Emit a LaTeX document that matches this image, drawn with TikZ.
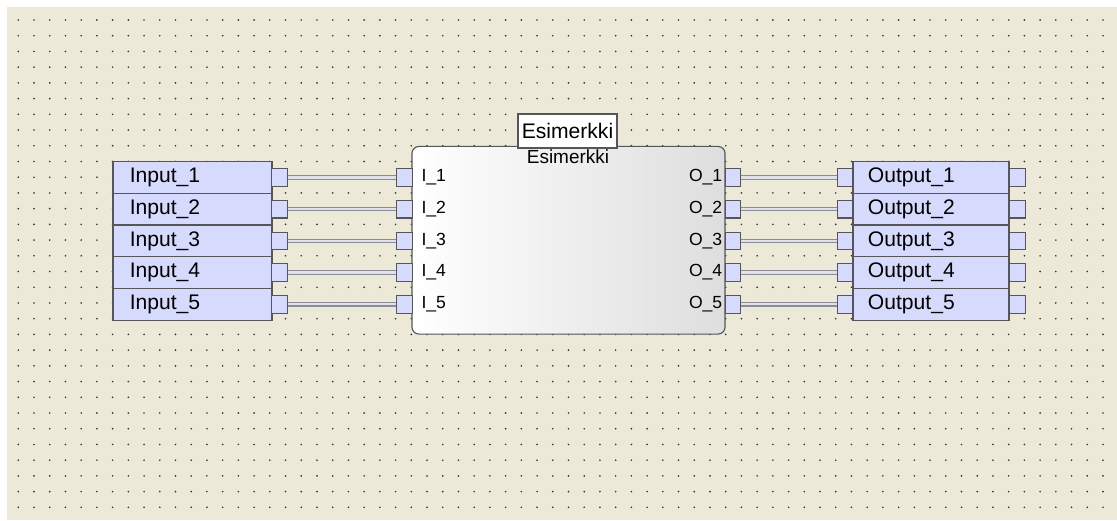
\documentclass[tikz,border=0pt]{standalone}
\usepackage{fontspec}
\setmainfont{Liberation Sans}
\definecolor{bgbeige}{RGB}{236,233,216}
\definecolor{portblue}{RGB}{214,218,252}
\definecolor{edgegray}{RGB}{85,85,90}
\definecolor{wireout}{RGB}{140,140,150}
\definecolor{wirein}{RGB}{225,225,235}
\tikzset{
  blk/.style={draw=edgegray,line width=0.8pt,fill=portblue,minimum height=0.79cm,
    inner xsep=0.42cm,inner ysep=0pt,align=left,font=\fontsize{15}{15}\selectfont},
  port/.style={draw=edgegray,line width=0.8pt,fill=portblue,minimum width=0.39cm,
    minimum height=0.44cm,inner sep=0pt},
  wire/.style={draw=wireout,line width=0.8pt,double=wirein,double distance=1.6pt},
  pin/.style={inner sep=0pt,font=\fontsize{12.5}{12.5}\selectfont}
}
\begin{document}
\begin{tikzpicture}[x=0.025cm,y=-0.025cm]
	\useasboundingbox (0,0) rectangle (1117,520);
	\fill[white] (0,0) rectangle (1117,520);
	\fill[bgbeige] (7,7) rectangle (1117,520);
	\foreach \i in {0,...,69}
		\foreach \j in {0,...,31}
			\fill[black!80] (18.3+\i*15.72,20+\j*15.72) circle (0.65pt);
	\node[draw=edgegray,line width=0.8pt,rounded corners=5pt,left color=white,right color=black!13,
		minimum width=7.825cm,minimum height=4.69cm] (main) at (568.5,240.25) {};
	\node[font=\fontsize{13.5}{13.5}\selectfont,inner sep=0pt] (maintxt) at (568,157) {Esimerkki};
	\node[draw=edgegray,fill=white,line width=0.9pt,minimum width=2.475cm,minimum height=0.85cm,
		inner sep=0pt,font=\fontsize{15}{15}\selectfont] (title) at (567.5,131) {Esimerkki};
	\foreach \k in {1,...,5} {
		\pgfmathsetmacro\yy{177.5+31.7*(\k-1)}
		\node[blk,text width=3.135cm] (in\k) at (192.5,\yy) {Input\_\k};
		\node[port] (ip\k) at (279.5,\yy) {};
		\node[port] (mi\k) at (404.5,\yy) {};
		\node[port] (mo\k) at (733,\yy) {};
		\node[port] (op\k) at (845,\yy) {};
		\node[blk,inner xsep=0.375cm,text width=3.15cm] (out\k) at (931,\yy) {Output\_\k};
		\node[port] (oq\k) at (1017.5,\yy) {};
		\node[pin,anchor=west] (li\k) at ([xshift=6pt]mi\k.east) {I\_\k};
		\node[pin,anchor=east] (lo\k) at ([xshift=-1.5pt]mo\k.west) {O\_\k};
		\draw[wire] (ip\k) -- (mi\k);
		\draw[wire] (mo\k) -- (op\k);
	}
\end{tikzpicture}
\end{document}
